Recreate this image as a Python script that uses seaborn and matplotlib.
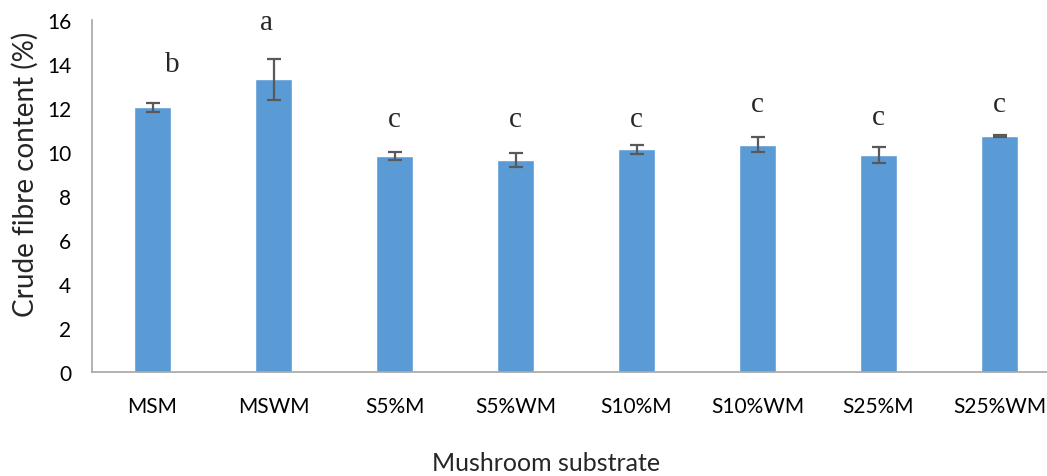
import pandas as pd
import matplotlib.pyplot as plt
import seaborn as sns

# data
substrates = ["MSM", "MSWM", "S5%M", "S5%WM", "S10%M", "S10%WM", "S25%M", "S25%WM"]
fibre = [12.03, 13.3, 9.8, 9.64, 10.13, 10.32, 9.86, 10.73]
fibre_err = [0.2, 0.95, 0.18, 0.3, 0.2, 0.34, 0.36, 0.03]
letters = ["b", "a", "c", "c", "c", "c", "c", "c"]
letter_y = [14.0, 15.9, 11.5, 11.5, 11.5, 12.2, 11.6, 12.2]
letter_dx = [0.165, -0.06, 0, 0, 0, 0, 0, 0]

df = pd.DataFrame({"substrate": substrates, "fibre": fibre})

sns.set_style("white")
plt.rcParams["font.family"] = ["Lato", "DejaVu Sans"]

fig = plt.figure(figsize=(10.47, 4.77), dpi=100)
ax = fig.add_axes([92 / 1047, 1 - 373 / 477, 968 / 1047, 352 / 477])

sns.barplot(data=df, x="substrate", y="fibre", color="#5B9BD5", saturation=1,
            width=0.31, errorbar=None, ax=ax)
ax.errorbar(range(len(substrates)), fibre, yerr=fibre_err, fmt="none",
            ecolor="#595959", elinewidth=1.6, capsize=5, capthick=1.6)

for i, (lab, y) in enumerate(zip(letters, letter_y)):
    ax.text(i + letter_dx[i], y, lab, ha="center", va="center",
            fontsize=21, family="Liberation Serif")

ax.set_xlim(-0.5, len(substrates) - 0.5)
ax.set_ylim(0, 16)
ax.set_yticks(range(0, 17, 2))
ax.tick_params(axis="both", length=0, labelsize=15, colors="black")
ax.tick_params(axis="x", pad=17)
ax.tick_params(axis="y", pad=15)

ax.set_xlabel("Mushroom substrate", fontsize=18)
ax.set_ylabel("Crude fibre content (%)", fontsize=20)
ax.xaxis.set_label_coords(0.469, -0.225)
ax.yaxis.set_label_coords(-0.055, 0.565)

for s in ["top", "right"]:
    ax.spines[s].set_visible(False)
for s in ["left", "bottom"]:
    ax.spines[s].set_color("#A6A6A6")
    ax.spines[s].set_linewidth(1.2)

fig.savefig("out.png", dpi=100)
